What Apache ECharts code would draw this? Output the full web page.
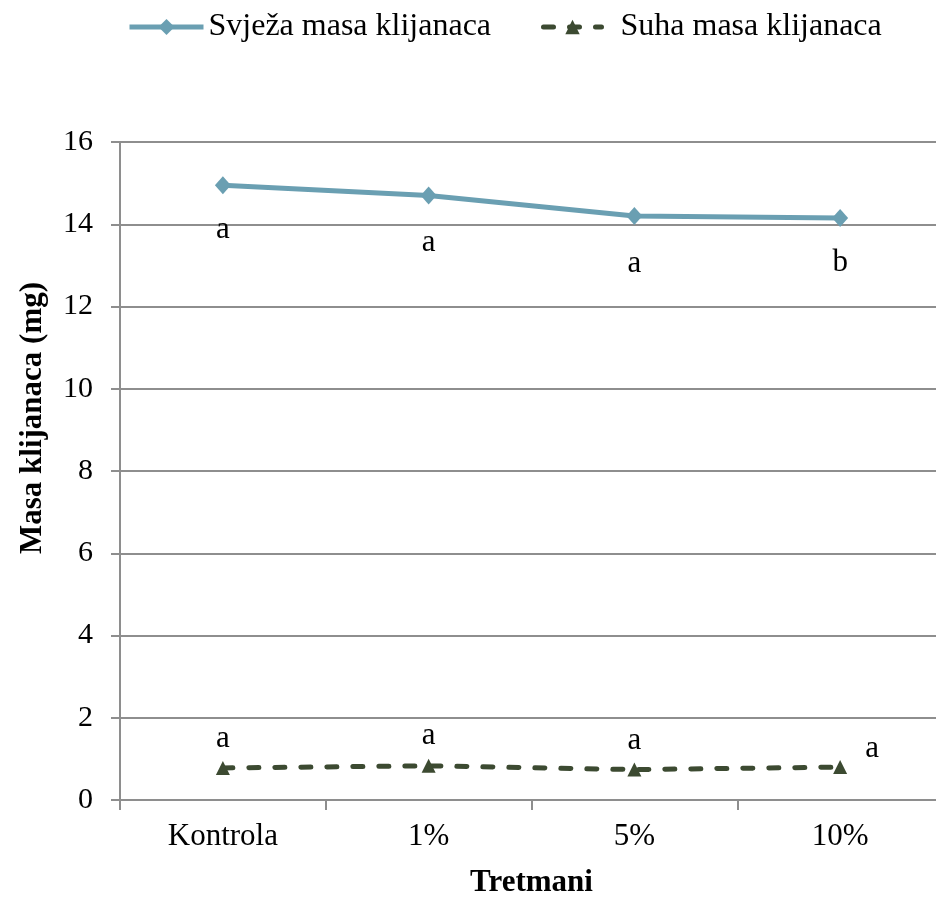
<!DOCTYPE html>
<html><head><meta charset="utf-8">
<script src="https://cdn.jsdelivr.net/npm/echarts@6/dist/echarts.min.js"></script>
<style>html,body{margin:0;padding:0;background:#fff;overflow:hidden;width:936px;height:903px}#c{width:943px;height:903px}</style>
</head><body><div id="c"></div>
<script>
const categories = ['Kontrola', '1%', '5%', '10%'];
const freshName = 'Svježa masa klijanaca';
const dryName = 'Suha masa klijanaca';
const freshValues = [14.95, 14.7, 14.2, 14.15];
const dryValues = [0.78, 0.83, 0.74, 0.8];
const freshLetters = ['a', 'a', 'a', 'b'];
const dryLetters = ['a', 'a', 'a', 'a'];
const yTicks = [0, 2, 4, 6, 8, 10, 12, 14, 16];

const freshOffsets = [[0, 45], [0, 47], [0, 48], [0, 45]];
const dryOffsets = [[0, -29], [0, -30], [0, -29], [32, -18]];
const FONT = '"Liberation Serif", "Times New Roman", serif';
const FRESH = '#6A9FB2';
const DRY = '#3C4A31';
const GRIDC = '#8e8e8e';

const chart = echarts.init(document.getElementById('c'), null, { width: 943, height: 903 });
chart.setOption({
  animation: false,
  backgroundColor: '#fff',
  legend: [
    { data: [freshName], left: 122, top: 6, itemWidth: 74, itemHeight: 20,
      lineStyle: { width: 5 },
      textStyle: { fontFamily: FONT, fontSize: 32, color: '#000' } },
    { data: [dryName], left: 536, top: 6, itemWidth: 58, itemHeight: 18,
      lineStyle: { width: 5 },
      textStyle: { fontFamily: FONT, fontSize: 32, color: '#000', padding: [0, 0, 0, 14] } }
  ],
  grid: { left: 120, right: 0, top: 142, bottom: 98 },
  xAxis: {
    type: 'category', data: categories, boundaryGap: true,
    name: 'Tretmani', nameLocation: 'middle', nameGap: 67,
    nameTextStyle: { fontFamily: FONT, fontSize: 31, fontWeight: 'bold', color: '#000' },
    axisLine: { lineStyle: { color: GRIDC, width: 2 } },
    axisTick: { show: true, length: 10, alignWithLabel: false, lineStyle: { color: GRIDC, width: 2 } },
    axisLabel: { fontFamily: FONT, fontSize: 31, color: '#000', margin: 21 },
    splitLine: { show: false }
  },
  yAxis: {
    type: 'value', min: yTicks[0], max: yTicks[yTicks.length - 1], interval: 2,
    name: 'Masa klijanaca (mg)', nameLocation: 'middle', nameGap: 72,
    nameTextStyle: { fontFamily: FONT, fontSize: 31, fontWeight: 'bold', color: '#000', padding: [0, 0, 0, 106] },
    axisLine: { show: true, lineStyle: { color: GRIDC, width: 2 } },
    axisTick: { show: true, length: 9, lineStyle: { color: GRIDC, width: 2 } },
    axisLabel: { fontFamily: FONT, fontSize: 30, color: '#000', margin: 27 },
    splitLine: { show: true, lineStyle: { color: GRIDC, width: 2 } }
  },
  series: [
    {
      name: freshName, type: 'line',
      data: freshValues.map((v, i) => ({
        value: v,
        label: { show: true, formatter: freshLetters[i], position: 'inside', offset: freshOffsets[i] }
      })),
      symbol: 'diamond', symbolSize: [16, 18],
      lineStyle: { color: FRESH, width: 5 },
      itemStyle: { color: FRESH },
      label: { fontFamily: FONT, fontSize: 31, color: '#000' },
      z: 3
    },
    {
      name: dryName, type: 'line',
      data: dryValues.map((v, i) => ({
        value: v,
        label: { show: true, formatter: dryLetters[i], position: 'inside', offset: dryOffsets[i] }
      })),
      symbol: 'triangle', symbolSize: [14, 14],
      lineStyle: { color: DRY, width: 5, type: [10, 16], cap: 'round' },
      itemStyle: { color: DRY },
      label: { fontFamily: FONT, fontSize: 31, color: '#000' },
      z: 3
    }
  ]
});
</script></body></html>
